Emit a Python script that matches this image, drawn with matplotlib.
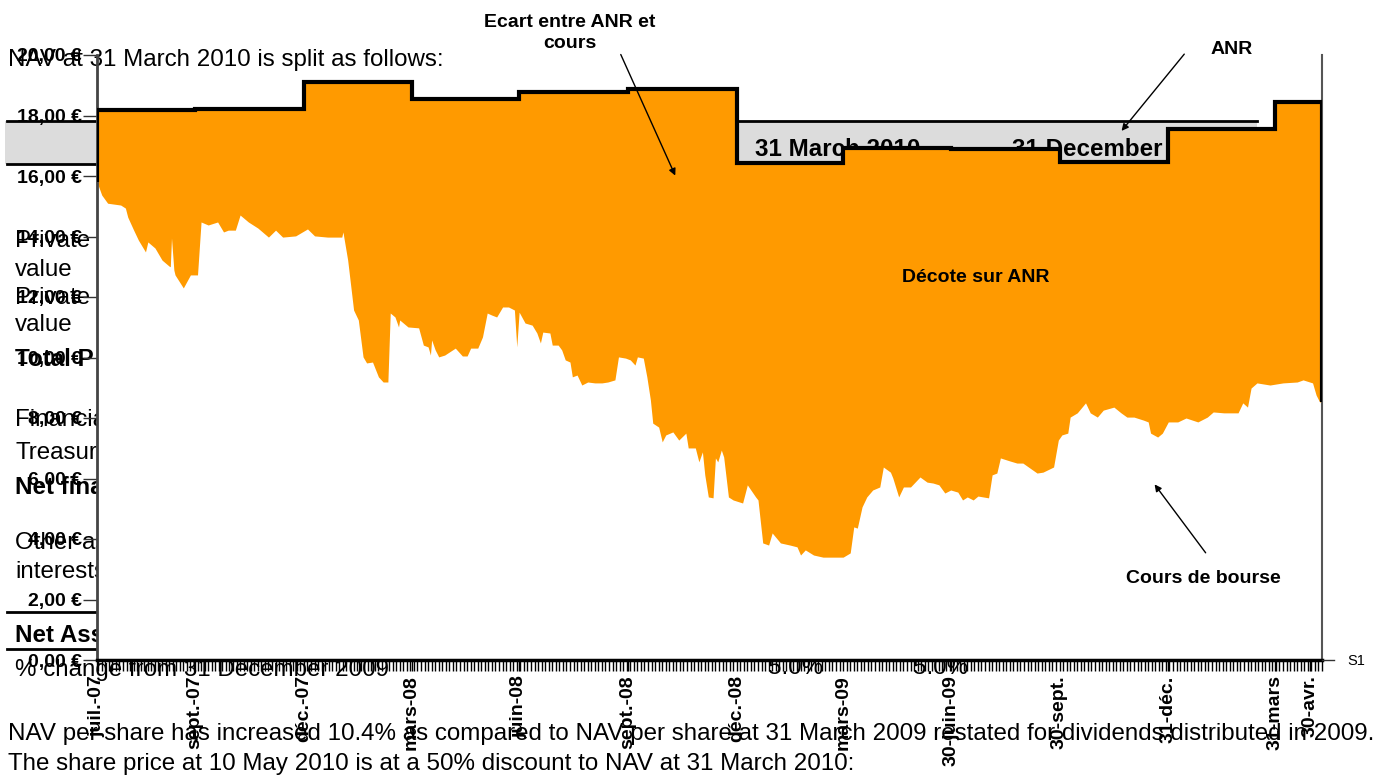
import pandas as pd
import matplotlib
matplotlib.use("Agg")
import matplotlib.pyplot as plt
import matplotlib.dates as mdates
from matplotlib.patches import Rectangle
from matplotlib.lines import Line2D

# --- data ------------------------------------------------------------------
start = pd.Timestamp("2007-07-09")

# cours de bourse: jours depuis le 9 juillet 2007, valeur en euros
price_day = [0, 4, 9, 20, 24, 26, 31, 35, 41, 43, 49, 55, 61, 62, 63, 65, 66, 73, 79, 85,
             88, 94, 102, 107, 111, 117, 121, 128, 136, 145, 151, 157, 168, 178, 184, 195,
             207, 208, 212, 217, 221, 225, 228, 233, 238, 242, 246, 248, 252, 255, 256, 263,
             272, 276, 280, 282, 283, 286, 289, 294, 303, 309, 313, 316, 322, 326, 330, 334,
             338, 343, 348, 353, 355, 357, 362, 368, 372, 375, 377, 383, 385, 390, 393, 396,
             400, 402, 406, 410, 415, 421, 427, 432, 438, 441, 447, 451, 455, 457, 462, 465,
             468, 470, 475, 478, 481, 487, 492, 498, 500, 506, 509, 512, 514, 517, 521, 523,
             525, 528, 530, 534, 538, 546, 550, 557, 559, 563, 568, 571, 578, 586, 592, 595,
             599, 606, 614, 623, 631, 637, 640, 643, 647, 651, 656, 662, 665, 671, 673, 678,
             682, 688, 696, 702, 707, 712, 717, 722, 728, 732, 736, 741, 745, 754, 757, 761,
             764, 772, 778, 783, 795, 800, 809, 813, 816, 821, 823, 829, 836, 840, 846, 851,
             860, 866, 871, 877, 885, 889, 891, 897, 901, 906, 914, 921, 931, 939, 944, 953,
             965, 969, 973, 976, 981, 992, 1003, 1015, 1020, 1028, 1031, 1034, 1036]
price_value = [15.8, 15.37, 15.1, 15.04, 14.94, 14.64, 14.21, 13.88, 13.49, 13.82, 13.62, 13.22,
               13.02, 13.0, 13.95, 12.89, 12.73, 12.3, 12.73, 12.73,
               14.48, 14.38, 14.48, 14.15, 14.21, 14.21, 14.71, 14.48, 14.28, 13.98, 14.21,
               13.98, 14.02, 14.25, 14.02, 13.98,
               13.98, 14.15, 13.22, 11.57, 11.24, 10.02, 9.82, 9.85, 9.36, 9.19, 9.19, 11.47,
               11.34, 11.01, 11.24, 11.01,
               10.98, 10.41, 10.35, 10.08, 10.58, 10.25, 10.02, 10.08, 10.31, 10.05, 10.05,
               10.31, 10.31, 10.68, 11.47, 11.4,
               11.34, 11.67, 11.67, 11.57, 10.35, 11.5, 11.14, 11.07, 10.81, 10.48, 10.84,
               10.81, 10.41, 10.41, 10.25, 9.92,
               9.85, 9.36, 9.42, 9.09, 9.19, 9.16, 9.16, 9.19, 9.26, 10.02, 9.98, 9.92, 9.75,
               10.02, 9.98, 9.36,
               8.6, 7.83, 7.7, 7.21, 7.44, 7.54, 7.27, 7.5, 7.01, 7.01, 6.55, 6.88, 6.12, 5.39,
               5.36, 6.68,
               6.55, 6.94, 6.71, 5.39, 5.29, 5.19, 5.79, 5.39, 5.29, 3.87, 3.8, 4.2, 3.87, 3.8,
               3.74, 3.47,
               3.64, 3.47, 3.4, 3.4, 3.4, 3.54, 4.4, 4.36, 5.06, 5.39, 5.62, 5.72, 6.38, 6.21,
               6.02, 5.39,
               5.72, 5.72, 6.05, 5.88, 5.85, 5.79, 5.52, 5.62, 5.55, 5.29, 5.39, 5.29, 5.42,
               5.36, 6.12, 6.18,
               6.68, 6.58, 6.51, 6.51, 6.18, 6.21, 6.38, 7.27, 7.44, 7.5, 8.03, 8.17, 8.5, 8.17,
               8.03, 8.26,
               8.36, 8.17, 8.03, 8.03, 7.93, 7.87, 7.5, 7.37, 7.5, 7.87, 7.87, 8.0, 7.87, 8.03,
               8.2, 8.17,
               8.17, 8.5, 8.36, 8.99, 9.16, 9.09, 9.16, 9.19, 9.26, 9.16, 8.76, 8.53, 8.53]

# ANR (actif net reevalue) par action, publie chaque trimestre
nav_dates = ["2007-07-09", "2007-09-30", "2007-12-31", "2008-03-31", "2008-06-30",
             "2008-09-30", "2008-12-31", "2009-03-31", "2009-06-30", "2009-09-30",
             "2009-12-31", "2010-03-31", "2010-05-10"]
nav_values = [18.18, 18.22, 19.1, 18.55, 18.78, 18.87, 16.42, 16.93, 16.9, 16.46,
              17.55, 18.45, 18.45]

tick_dates = ["2007-07-09", "2007-09-30", "2007-12-31", "2008-03-31", "2008-06-30",
              "2008-09-30", "2008-12-31", "2009-03-31", "2009-06-30", "2009-09-30",
              "2009-12-31", "2010-03-31", "2010-04-30"]
tick_labels = ["juil.-07", "sept.-07", "déc.-07", "mars-08", "juin-08", "sept.-08",
               "déc.-08", "mars-09", "30-juin-09", "30-sept.", "31-déc.", "31-mars",
               "30-avr."]

# --- figure ---------------------------------------------------------------
plt.rcParams['font.family'] = ['Liberation Sans', 'DejaVu Sans']

W, H = 1385, 778
fig = plt.figure(figsize=(W / 100, H / 100), dpi=100)


def fx(x):
    return x / W


def fy(y):
    return 1 - y / H


def day(n):
    return start + pd.Timedelta(days=n)


# page text lying behind the chart (the chart was pasted over a table)
doc_size = 17.4
fig.add_artist(Rectangle((fx(5), fy(164)), fx(1257) - fx(5), fy(121) - fy(164),
                         transform=fig.transFigure, facecolor='#dcdcdc',
                         edgecolor='none', zorder=-3))
for yl in [121, 164]:
    fig.add_artist(Line2D([fx(7), fx(1257)], [fy(yl), fy(yl)], color='black', lw=2, zorder=-2))
for yl in [612, 649]:
    fig.add_artist(Line2D([fx(7), fx(700)], [fy(yl), fy(yl)], color='black', lw=2, zorder=-2))

doc_lines = [
    (8, 60, "NAV at 31 March 2010 is split as follows:", 'normal'),
    (755, 150, "31 March 2010", 'bold'),
    (1012, 150, "31 December", 'bold'),
    (15, 241, "Private", 'normal'),
    (15, 270, "value", 'normal'),
    (15, 298, "Private", 'normal'),
    (15, 325, "value", 'normal'),
    (15, 360, "Total P", 'bold'),
    (15, 420, "Financial", 'normal'),
    (15, 453, "Treasury", 'normal'),
    (15, 488, "Net financial", 'bold'),
    (15, 543, "Other assets", 'normal'),
    (15, 572, "interests", 'normal'),
    (15, 635, "Net Assets", 'bold'),
    (15, 670, "% change from 31 December 2009", 'normal'),
    (768, 668, "5.0%", 'normal'),
    (913, 668, "5.0%", 'normal'),
    (8, 734, "NAV per share has increased 10.4% as compared to NAV per share at 31 March 2009 "
             "restated for dividends distributed in 2009.", 'normal'),
    (8, 764, "The share price at 10 May 2010 is at a 50% discount to NAV at 31 March 2010:", 'normal'),
]
for x, y, s, w in doc_lines:
    fig.text(fx(x), fy(y), s, ha='left', va='center', fontsize=doc_size,
             fontweight=w, zorder=-2)

# chart
ax = fig.add_axes([fx(97), fy(660), fx(1322) - fx(97), fy(55) - fy(660)])
ax.patch.set_facecolor('none')

orange = '#ff9a00'
nav_x = pd.to_datetime(nav_dates)
price_x = [day(d) for d in price_day]

ax.fill_between(nav_x, nav_values, step='post', color=orange, lw=0, zorder=1)
ax.fill_between(price_x, price_value, color='white', lw=0, zorder=2)
ax.step(nav_x, nav_values, where='post', color='black', lw=3, zorder=3,
        solid_joinstyle='miter')
ax.vlines([nav_x[0], nav_x[-1]], [price_value[0], price_value[-1]],
          [nav_values[0], nav_values[-1]], color='black', lw=3, zorder=3)

ax.set_xlim(start, day(1036))
ax.set_ylim(0, 20)

yt = list(range(0, 21, 2))
ax.set_yticks(yt)
ax.set_yticklabels([f"{v:.2f}".replace('.', ',') + " €" for v in yt],
                   fontweight='bold', fontsize=14)
ax.tick_params(axis='y', direction='out', length=10, width=1, color='#333333', pad=1)

ax.set_xticks(pd.to_datetime(tick_dates))
ax.set_xticklabels(tick_labels, rotation=90, fontweight='bold', fontsize=14)
ax.xaxis.set_minor_locator(mdates.DayLocator(interval=3))
ax.tick_params(axis='x', which='both', direction='out', length=8, width=1,
               color='black', pad=3)

ax.spines['top'].set_visible(False)
ax.spines['left'].set_color('#444444')
ax.spines['left'].set_linewidth(2)
ax.spines['right'].set_color('#555555')
ax.spines['right'].set_linewidth(1.5)
ax.spines['bottom'].set_color('black')
ax.spines['bottom'].set_linewidth(2.5)

# annotations
ann_size = 14
ax.text(day(400), 20.73, "Ecart entre ANR et\ncours", linespacing=1.35, clip_on=False,
        fontsize=ann_size, fontweight='bold', ha='center', va='center')
ax.annotate("", xy=(day(490), 15.93), xytext=(day(442), 20.1), annotation_clip=False,
            arrowprops=dict(arrowstyle='-|>', color='black', lw=1, mutation_scale=10))
ax.text(day(960), 20.17, "ANR", clip_on=False, fontsize=ann_size, fontweight='bold',
        ha='center', va='center')
ax.annotate("", xy=(day(865), 17.42), xytext=(day(921), 20.1), annotation_clip=False,
            arrowprops=dict(arrowstyle='-|>', color='black', lw=1, mutation_scale=10))
ax.text(day(743), 12.63, "Décote sur ANR", fontsize=ann_size, fontweight='bold',
        ha='center', va='center', zorder=4)
ax.text(day(936), 2.71, "Cours de bourse", fontsize=ann_size, fontweight='bold',
        ha='center', va='center', zorder=4)
ax.annotate("", xy=(day(893), 5.88), xytext=(day(939), 3.47),
            arrowprops=dict(arrowstyle='-|>', color='black', lw=1, mutation_scale=10))

# depth axis stub with series name
fig.add_artist(Line2D([fx(1322), fx(1334)], [fy(660), fy(660)], color='#333333', lw=1))
fig.text(fx(1347), fy(661), "S1", ha='left', va='center', fontsize=10.5)

fig.savefig("out.png", dpi=100)
